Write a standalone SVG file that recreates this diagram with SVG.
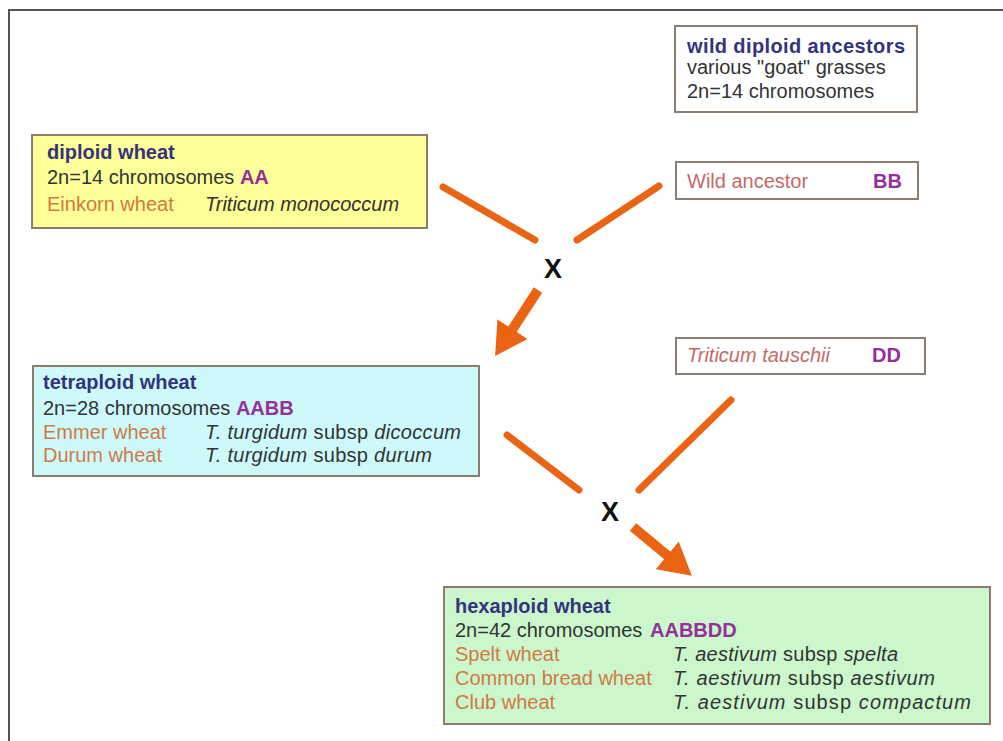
<svg xmlns="http://www.w3.org/2000/svg" width="1003" height="741" viewBox="0 0 1003 741">
<style>
text{font-family:"Liberation Sans",Arial,sans-serif;font-size:20px;fill:#333333}
.t{font-weight:bold;fill:#34347c}
.c{font-weight:bold;fill:#93309a}
.n{fill:#cf7a44}
.w{fill:#c46a6a}
.i{font-style:italic}
.box{stroke:#8c7c70;stroke-width:2}
.ln{stroke:#ea6414;stroke-width:7;stroke-linecap:round;fill:none}
.ar{stroke:#ea6414;stroke-width:10;fill:none}
.x{font-size:27px;font-weight:bold;fill:#111111}
</style>
<defs>
<marker id="ah" viewBox="0 0 32 36" refX="1" refY="18" markerWidth="32" markerHeight="36" markerUnits="userSpaceOnUse" orient="auto">
<path d="M0,0 L32,18 L0,36 z" fill="#ea6414"/>
</marker>
</defs>
<rect width="1003" height="741" fill="#ffffff"/>
<path d="M9,741 V10 H1003" fill="none" stroke="#555555" stroke-width="2"/>

<g id="wild-diploid">
<rect class="box" x="675" y="26" width="242" height="86" fill="#ffffff" stroke="#a07868"/>
<text class="t" x="687" y="53" textLength="218" lengthAdjust="spacing">wild diploid ancestors</text>
<text x="687" y="74">various "goat" grasses</text>
<text x="687" y="98">2n=14 chromosomes</text>
</g>

<g id="diploid-wheat">
<rect class="box" x="32" y="135" width="395" height="93" fill="#ffff99"/>
<text class="t" x="47" y="159">diploid wheat</text>
<text x="47" y="184">2n=14 chromosomes <tspan class="c">AA</tspan></text>
<text class="n" x="47" y="211">Einkorn wheat</text>
<text class="i" x="205" y="211">Triticum monococcum</text>
</g>

<g id="wild-ancestor-bb">
<rect class="box" x="676" y="162" width="242" height="37" fill="#ffffff"/>
<text class="w" x="687" y="188">Wild ancestor</text>
<text class="c" x="873" y="188">BB</text>
</g>

<g id="tetraploid-wheat">
<rect class="box" x="33" y="366" width="446" height="110" fill="#cdf9fb"/>
<text class="t" x="43" y="389">tetraploid wheat</text>
<text x="43" y="415">2n=28 chromosomes <tspan class="c">AABB</tspan></text>
<text class="n" x="43" y="439">Emmer wheat</text>
<text x="205" y="439" textLength="256" lengthAdjust="spacing"><tspan class="i">T. turgidum</tspan> subsp <tspan class="i">dicoccum</tspan></text>
<text class="n" x="43" y="462">Durum wheat</text>
<text x="205" y="462" textLength="227" lengthAdjust="spacing"><tspan class="i">T. turgidum</tspan> subsp <tspan class="i">durum</tspan></text>
</g>

<g id="triticum-tauschii">
<rect class="box" x="676" y="338" width="249" height="36" fill="#ffffff"/>
<text class="w i" x="687" y="362">Triticum tauschii</text>
<text class="c" x="872" y="362">DD</text>
</g>

<g id="hexaploid-wheat">
<rect class="box" x="444" y="587" width="546" height="137" fill="#ccf7cc"/>
<text class="t" x="455" y="613">hexaploid wheat</text>
<text x="455" y="637">2n=42 chromosomes</text>
<text class="c" x="650" y="637">AABBDD</text>
<text class="n" x="455" y="661">Spelt wheat</text>
<text x="673" y="661" textLength="225" lengthAdjust="spacing"><tspan class="i">T. aestivum</tspan> subsp <tspan class="i">spelta</tspan></text>
<text class="n" x="455" y="685">Common bread wheat</text>
<text x="673" y="685" textLength="262" lengthAdjust="spacing"><tspan class="i">T. aestivum</tspan> subsp <tspan class="i">aestivum</tspan></text>
<text class="n" x="455" y="709">Club wheat</text>
<text x="673" y="709" textLength="298" lengthAdjust="spacing"><tspan class="i">T. aestivum</tspan> subsp <tspan class="i">compactum</tspan></text>
</g>

<g id="connectors">
<line class="ln" x1="443" y1="187" x2="535" y2="240"/>
<line class="ln" x1="659" y1="186" x2="577" y2="240"/>
<text class="x" x="544" y="278">X</text>
<line class="ar" x1="538" y1="290" x2="512" y2="330" marker-end="url(#ah)"/>
<line class="ln" x1="507" y1="435" x2="579" y2="490"/>
<line class="ln" x1="731" y1="400" x2="639" y2="490"/>
<text class="x" x="601" y="521">X</text>
<line class="ar" x1="633" y1="527" x2="668" y2="556" marker-end="url(#ah)"/>
</g>
</svg>
